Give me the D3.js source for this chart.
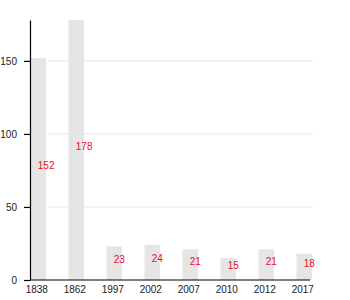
<!DOCTYPE html>
<html>
<head>
<meta charset="utf-8">
<script src="https://cdn.jsdelivr.net/npm/d3@7"></script>
<style>
	body { margin: 0; background: #fff; }
	text { font-family: "Liberation Sans", Arial, sans-serif; }
</style>
</head>
<body>
<svg id="chart" width="350" height="300"></svg>
<script>
	// data
	var years = ["1838", "1862", "1997", "2002", "2007", "2010", "2012", "2017"];
	var counts = [152, 178, 23, 24, 21, 15, 21, 18];
	var yTicks = [0, 50, 100, 150];

	(function(){
		var svg = d3.select("#chart");
		var padL = 30, padT = 20, padB = 280, padR = 334;

		var x = d3.scaleBand().domain(years).range([padL, padR]).padding(0);
		var barW = x.bandwidth() * 0.41;
		var y = d3.scaleLinear().domain([0, d3.max(counts)]).range([padB, padT]);

		// grid
		svg.append("g").selectAll("line")
			.data(yTicks.filter(function(d){ return d > 0; }))
			.enter().append("line")
			.attr("x1", padL + 18).attr("x2", 313)
			.attr("y1", function(d){ return y(d); })
			.attr("y2", function(d){ return y(d); })
			.attr("stroke", "#e6e6e6").attr("stroke-width", 1);

		var rows = years.map(function(yr, i){ return {year: yr, value: counts[i]}; });

		svg.append("g").selectAll("rect")
			.data(rows)
			.enter().append("rect")
			.attr("x", function(d){ return x(d.year) + 0.5; })
			.attr("y", function(d){ return y(d.value); })
			.attr("width", barW)
			.attr("height", function(d){ return padB - y(d.value); })
			.attr("fill", "#e5e5e5");

		svg.append("g").selectAll("text")
			.data(rows)
			.enter().append("text")
			.attr("x", function(d){ return x(d.year) + barW / 2; })
			.attr("y", function(d){ return y(d.value / 2); })
			.attr("fill", "#e8102a")
			.attr("font-size", "10px")
			.text(function(d){ return d.value; });

		// y axis
		var yAxis = svg.append("g").attr("transform", "translate(" + padL + ",0)")
			.call(d3.axisLeft(y).tickValues(yTicks).tickSize(6).tickSizeOuter(0));
		yAxis.select(".domain").attr("stroke", "#000").attr("stroke-width", 1.2);
		yAxis.selectAll(".tick line").attr("stroke", "#000").attr("stroke-width", 1.2);
		yAxis.selectAll(".tick text").attr("font-size", "10px").attr("fill", "#222")
			.attr("font-family", "Liberation Sans, Arial, sans-serif").attr("x", -13);

		// x axis
		var xAxis = svg.append("g").attr("transform", "translate(0," + padB + ")")
			.call(d3.axisBottom(x).tickSize(0).tickSizeOuter(0));
		xAxis.select(".domain").attr("d", "M" + padL + ",0H310").attr("stroke", "#000").attr("stroke-width", 1.2);
		xAxis.selectAll(".tick").attr("transform", function(d){ return "translate(" + (x(d) + barW / 2 - 1) + ",0)"; });
		xAxis.selectAll(".tick text").attr("font-size", "10px").attr("fill", "#222")
			.attr("font-family", "Liberation Sans, Arial, sans-serif").attr("y", 6);
	})();
</script>
</body>
</html>
